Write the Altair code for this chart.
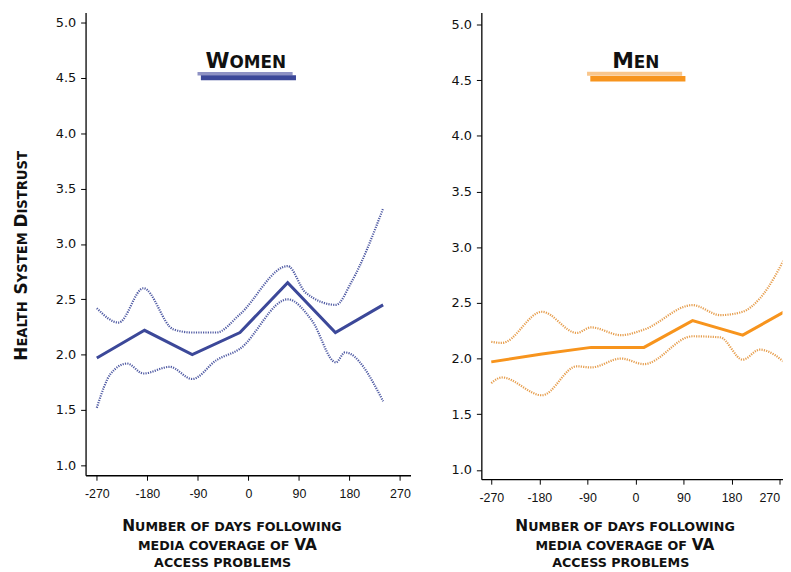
import altair as alt
import pandas as pd

# ---------------- data ----------------
w_days = [-270, -185, -100, -15, 70, 155, 240]
w_mean = [1.97, 2.22, 2.00, 2.20, 2.65, 2.20, 2.45]
w_up_days = [-270, -231, -187, -134, -100, -57, -16, 70, 102, 156, 184, 240]
w_up = [2.42, 2.29, 2.60, 2.23, 2.20, 2.20, 2.36, 2.80, 2.56, 2.45, 2.66, 3.32]
w_lo_days = [-270, -245, -216, -187, -140, -100, -57, -16, 70, 113, 156, 172, 240]
w_lo = [1.52, 1.83, 1.92, 1.83, 1.89, 1.78, 1.95, 2.05, 2.50, 2.31, 1.93, 2.02, 1.58]

m_days = [-270, -175, -83, 16, 107, 201, 290]
m_mean = [1.97, 2.04, 2.10, 2.10, 2.34, 2.21, 2.45]
m_ci_days = [-270, -250, -175, -110, -83, -27, 16, 107, 159, 201, 233, 290]
m_up = [2.15, 2.14, 2.42, 2.23, 2.28, 2.21, 2.26, 2.48, 2.39, 2.42, 2.54, 3.00]
m_lo = [1.78, 1.83, 1.67, 1.93, 1.92, 2.00, 1.95, 2.20, 2.19, 1.99, 2.08, 1.92]

x_ticks = [-270, -180, -90, 0, 90, 180, 270]
y_ticks = [1.0, 1.5, 2.0, 2.5, 3.0, 3.5, 4.0, 4.5, 5.0]

WOMEN_COL = "#3c4899"
WOMEN_LIGHT = "#8e92c4"
MEN_COL = "#f7941d"
MEN_CI = "#e39238"
MEN_LIGHT = "#f9c68c"
TXT = "#111111"
TFONT = "DejaVu Sans"

# approximate advance widths (em) of DejaVu Sans Bold capitals
ADV = {' ': 0.348, 'A': 0.774, 'B': 0.762, 'C': 0.734, 'D': 0.830, 'E': 0.683,
       'F': 0.683, 'G': 0.821, 'H': 0.837, 'I': 0.372, 'L': 0.637, 'M': 0.995,
       'N': 0.837, 'O': 0.850, 'P': 0.733, 'R': 0.770, 'S': 0.720, 'T': 0.682,
       'U': 0.812, 'V': 0.774, 'W': 1.103, 'Y': 0.724}


def tw(s, size):
    return sum(ADV.get(c, 0.7) for c in s) * size


one = pd.DataFrame({"k": [0]})


def piece(text, size, x, y, angle=0):
    mk = dict(text=text, align="left", baseline="alphabetic", font=TFONT,
              fontSize=size, fontWeight="bold", color=TXT)
    if angle:
        mk["angle"] = angle
    return alt.Chart(one).mark_text(**mk).encode(x=alt.value(x), y=alt.value(y))


def smallcaps(pieces, center, base, vertical=False):
    total = sum(tw(t, s) for t, s in pieces)
    out = []
    if not vertical:
        pos = center - total / 2
        for t, s in pieces:
            if t.strip():
                out.append(piece(t, s, pos, base))
            pos += tw(t, s)
    else:
        pos = center + total / 2
        for t, s in pieces:
            if t.strip():
                out.append(piece(t, s, base, pos, angle=270))
            pos -= tw(t, s)
    return out


def bar(x1, x2, y, w, col):
    return alt.Chart(one).mark_rule(color=col, strokeWidth=w, strokeCap="butt").encode(
        x=alt.value(x1), x2=alt.value(x2), y=alt.value(y))


XS, XL = 12.8, 15.5
B1, B2, B3 = 523.5, 542.5, 560


def xtitle(c1, c2, c3):
    L = []
    L += smallcaps([("N", XL), ("UMBER OF DAYS FOLLOWING", XS)], c1, B1)
    L += smallcaps([("MEDIA COVERAGE OF", XS), (" ", XS), ("VA", XL)], c2, B2)
    L += smallcaps([("ACCESS PROBLEMS", XS)], c3, B3)
    return L


def panel(days, mean, ud, up, ld, lo, col, cicol, xdom, ydom, flush=False):
    d_mean = pd.DataFrame({"day": days, "v": mean})
    d_up = pd.DataFrame({"day": ud, "v": up})
    d_lo = pd.DataFrame({"day": ld, "v": lo})
    xax = dict(values=x_ticks, title=None, grid=False, labelFont="Liberation Sans",
               labelFontSize=12.5, labelColor=TXT, labelPadding=7, tickSize=5,
               tickColor="black", domainColor="black", domainWidth=1.3,
               labelOverlap=False, labelExpr="'' + datum.value")
    if flush:
        xax["labelFlush"] = 5
    xs = alt.X("day:Q", scale=alt.Scale(domain=xdom, nice=False, zero=False),
               axis=alt.Axis(**xax))
    ys = alt.Y("v:Q", scale=alt.Scale(domain=ydom, nice=False, zero=False),
               axis=alt.Axis(values=y_ticks, format=".1f", title=None, grid=False,
                             labelFont="DejaVu Sans", labelFontSize=13, labelColor=TXT,
                             labelPadding=5, tickSize=5, tickColor="black",
                             domainColor="black", domainWidth=1.3))
    ci = dict(color=cicol, strokeWidth=2.2, strokeDash=[1.2, 1.2], opacity=0.9,
              interpolate="monotone", clip=True)
    l_up = alt.Chart(d_up).mark_line(**ci).encode(x=xs, y=ys)
    l_lo = alt.Chart(d_lo).mark_line(**ci).encode(x=xs, y=ys)
    l_m = alt.Chart(d_mean).mark_line(color=col, strokeWidth=3, clip=True).encode(x=xs, y=ys)
    return [l_up, l_lo, l_m]


# ---------------- left panel (Women) ----------------
left_layers = panel(w_days, w_mean, w_up_days, w_up, w_lo_days, w_lo, WOMEN_COL, WOMEN_COL,
                    [-290, 288.8], [0.911, 5.089])
left_layers += [bar(113, 209, 61.7, 3.5, WOMEN_LIGHT), bar(116.4, 212.4, 65.8, 5, WOMEN_COL)]
left_layers += smallcaps([("W", 22), ("OMEN", 17)], 161.7, 56.3)
left_layers += xtitle(148.7, 143.7, 138.7)
left_layers += smallcaps([("H", 17), ("EALTH", 13.3), (" ", 13.3), ("S", 17), ("YSTEM", 13.3),
                          (" ", 13.3), ("D", 17), ("ISTRUST", 13.3)], 245.5, -59.3, vertical=True)
left = alt.layer(*left_layers).properties(width=328, height=467)

# ---------------- right panel (Men) ----------------
right_layers = panel(m_days, m_mean, m_ci_days, m_up, m_ci_days, m_lo, MEN_COL, MEN_CI,
                     [-288.6, 275.5], [0.916, 5.107], flush=True)
right_layers += [bar(106.7, 202.7, 61.8, 4, MEN_LIGHT), bar(110, 206, 66.8, 5.5, MEN_COL)]
right_layers += smallcaps([("M", 22), ("EN", 17)], 155.9, 56.3)
right_layers += xtitle(146, 145.5, 141)
right = alt.layer(*right_layers).properties(width=304, height=471)

chart = alt.hconcat(left, right, spacing=40.5).properties(
    padding={"left": 4.3, "top": 2, "right": 0, "bottom": 0}
).configure_view(stroke=None)

chart.save("out.html", embed_options={"renderer": "svg", "actions": False})
